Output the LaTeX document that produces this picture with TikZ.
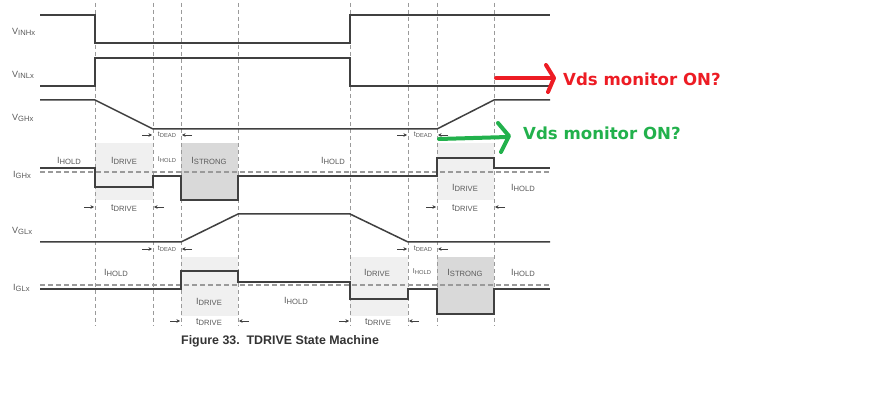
\documentclass[tikz,border=0pt]{standalone}
\usepackage{fontspec}
\setmainfont{Liberation Sans}
\newfontfamily\annofont{DejaVu Sans}
\usetikzlibrary{arrows.meta}
\definecolor{sigc}{HTML}{404040}
\definecolor{txtc}{HTML}{5A5A5A}
\definecolor{dashc}{HTML}{9A9A9A}
\definecolor{lightbox}{HTML}{F0F0F0}
\definecolor{darkbox}{HTML}{D9D9D9}
\definecolor{annred}{HTML}{ED1C24}
\definecolor{anngreen}{HTML}{22B14C}
\definecolor{capc}{HTML}{333333}
\newcommand\lbA[2]{{\fontsize{9}{9}\selectfont #1\raisebox{-1.6pt}{\fontsize{7.6}{7.6}\selectfont #2}}}
\newcommand\lbB[2]{{\fontsize{7}{7}\selectfont #1\raisebox{-1.2pt}{\fontsize{5.8}{5.8}\selectfont #2}}}
\tikzset{
  sigline/.style={draw=sigc, line width=1.5pt, line join=miter},
  vdash/.style={draw=dashc, line width=1pt, dash pattern=on 4pt off 3pt},
  hdash/.style={draw=dashc, line width=1.2pt, dash pattern=on 5pt off 3pt},
  tarr/.style={draw=sigc, line width=0.7pt, -{Stealth[length=3.5pt,width=3.5pt]}},
  lbl/.style={text=txtc, inner sep=0pt},
  annarrow/.style={line width=4pt, line cap=round, line join=round},
  annotext/.style={font=\annofont\bfseries\fontsize{16.6}{16.6}\selectfont, anchor=west, inner sep=0pt},
}
\begin{document}
\begin{tikzpicture}[x=1pt,y=-1pt]
\useasboundingbox (0,0) rectangle (881,403);
\fill[white] (0,0) rectangle (881,403);
% shaded boxes
\fill[lightbox] (95,143) rectangle (153,200);
\fill[darkbox] (181,143) rectangle (238,200);
\fill[lightbox] (437,143) rectangle (494,200);
\fill[lightbox] (181,257) rectangle (238,316);
\fill[lightbox] (350,257) rectangle (408,316);
\fill[darkbox] (437,257) rectangle (494,314);
% vertical dashed lines
\foreach \x in {95,153,181,238,350,408,437,494}
  \draw[vdash] (\x,3) -- (\x,326);
% reference dashed lines
\draw[hdash] (40,172) -- (550,172);
\draw[hdash] (40,285) -- (550,285);
% signals
\draw[sigline] (40,15) -- (95,15) -- (95,43) -- (350,43) -- (350,15) -- (550,15);
\draw[sigline] (40,86) -- (95,86) -- (95,58) -- (350,58) -- (350,86) -- (550,86);
\draw[sigline] (40,100) -- (95,100) -- (153,129) -- (437,129) -- (494,100) -- (550,100);
\draw[sigline] (40,168) -- (95,168) -- (95,187) -- (153,187) -- (153,176) -- (181,176) -- (181,200) -- (238,200) -- (238,176) -- (437,176) -- (437,158) -- (494,158) -- (494,168) -- (550,168);
\draw[sigline] (40,242) -- (181,242) -- (238,214) -- (350,214) -- (408,242) -- (550,242);
\draw[sigline] (40,289) -- (181,289) -- (181,271) -- (238,271) -- (238,282) -- (350,282) -- (350,299) -- (408,299) -- (408,289) -- (437,289) -- (437,314) -- (494,314) -- (494,289) -- (550,289);
% timing arrows
\foreach \y/\a/\b in {135/153/181, 135/408/437, 249/153/181, 249/408/437, 207/95/153, 207/437/494, 321/181/238, 321/350/408}{
  \draw[tarr] (\a-11,\y) -- (\a-1,\y);
  \draw[tarr] (\b+11,\y) -- (\b+1,\y);
}
% signal names
\node[lbl, anchor=west] (vinh) at (12,32) {\lbA{V}{INHx}};
\node[lbl, anchor=west] (vinl) at (12,75) {\lbA{V}{INLx}};
\node[lbl, anchor=west] (vgh) at (12,118) {\lbA{V}{GHx}};
\node[lbl, anchor=west] (igh) at (13,175) {\lbA{I}{GHx}};
\node[lbl, anchor=west] (vgl) at (12,231) {\lbA{V}{GLx}};
\node[lbl, anchor=west] (igl) at (13,288) {\lbA{I}{GLx}};
% GHx labels
\node[lbl] (gh1) at (69,161) {\lbA{I}{HOLD}};
\node[lbl] (gh2) at (124,161) {\lbA{I}{DRIVE}};
\node[lbl] (gh3) at (167,160) {\lbB{I}{HOLD}};
\node[lbl] (gh4) at (209,161) {\lbA{I}{STRONG}};
\node[lbl] (gh5) at (333,161) {\lbA{I}{HOLD}};
\node[lbl] (gh6) at (465,188) {\lbA{I}{DRIVE}};
\node[lbl] (gh7) at (523,188) {\lbA{I}{HOLD}};
\node[lbl] (td1) at (124,208) {\lbA{t}{DRIVE}};
\node[lbl] (td2) at (465,208) {\lbA{t}{DRIVE}};
\node[lbl] (dd1) at (167,135) {\lbB{t}{DEAD}};
\node[lbl] (dd2) at (423,135) {\lbB{t}{DEAD}};
\node[lbl] (dd3) at (167,249) {\lbB{t}{DEAD}};
\node[lbl] (dd4) at (423,249) {\lbB{t}{DEAD}};
% GLx labels
\node[lbl] (gl1) at (116,273) {\lbA{I}{HOLD}};
\node[lbl] (gl2) at (209,302) {\lbA{I}{DRIVE}};
\node[lbl] (gl3) at (296,301) {\lbA{I}{HOLD}};
\node[lbl] (gl4) at (377,273) {\lbA{I}{DRIVE}};
\node[lbl] (gl5) at (422,272) {\lbB{I}{HOLD}};
\node[lbl] (gl6) at (465,273) {\lbA{I}{STRONG}};
\node[lbl] (gl7) at (523,273) {\lbA{I}{HOLD}};
\node[lbl] (td3) at (209,322) {\lbA{t}{DRIVE}};
\node[lbl] (td4) at (378,322) {\lbA{t}{DRIVE}};
% caption
\node[text=capc, inner sep=0pt, anchor=west, font=\bfseries\fontsize{12.4}{12.4}\selectfont] (cap) at (181,341) {Figure 33.\ \ TDRIVE State Machine};
% annotations
\node[annotext, text=annred] (redtxt) at (563,79) {Vds monitor ON?};
\node[annotext, text=anngreen] (greentxt) at (523,133) {Vds monitor ON?};
\draw[annarrow, annred] (496,78) -- (553,78);
\draw[annarrow, annred] (546,65) -- (554,78) -- (548,92);
\draw[annarrow, anngreen] (439,139) -- (508,137);
\draw[annarrow, anngreen] (498,123) -- (509,136) -- (501,152);
\end{tikzpicture}
\end{document}
